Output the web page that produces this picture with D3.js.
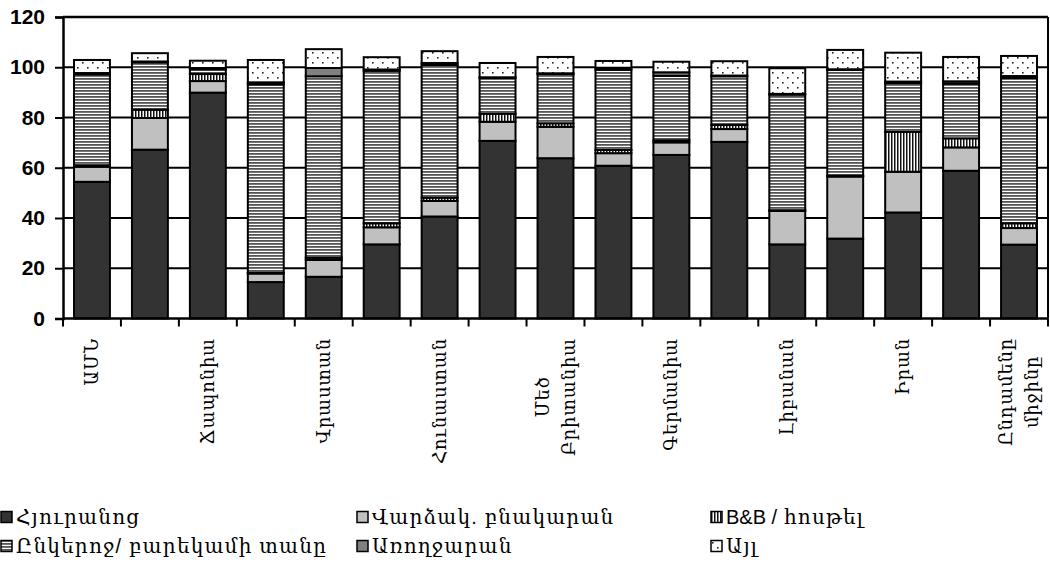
<!DOCTYPE html>
<html>
<head>
<meta charset="utf-8">
<script src="https://cdn.jsdelivr.net/npm/d3@7"></script>
<style>
  body { margin: 0; background: #fff; }
  text { font-family: "Liberation Sans", "DejaVu Serif", sans-serif; }
  .ytick text { font-weight: bold; font-size: 21px; }
</style>
</head>
<body>
<svg id="chart"></svg>
<script>
const W = 1050, H = 573;

// categories (only every second one is labelled in the original)
const categories = ["ԱՄՆ", "", "Ճապոնիա", "", "Վրաստան", "", "Հունաստան", "",
  "Մեծ\nԲրիտանիա", "", "Գերմանիա", "", "Լիբանան", "", "Իրան", "", "Ընդամենը\nմիջինը"];

const seriesNames = ["Հյուրանոց", "Վարձակ. բնակարան", "B&B / հոսթել",
  "Ընկերոջ/ բարեկամի տանը", "Առողջարան", "Այլ"];

const hotel    = [54.4, 67.2, 89.9, 14.5, 16.6, 29.5, 40.6, 70.7, 63.8, 60.8, 65.1, 70.3, 29.5, 31.8, 42.2, 58.8, 29.4];
const rental   = [6.0, 12.6, 4.6, 3.4, 6.7, 6.8, 6.2, 7.6, 12.5, 5.0, 5.0, 5.1, 13.3, 24.7, 16.2, 9.3, 6.6];
const bnb      = [0.6, 3.3, 2.8, 0.3, 0.9, 1.6, 1.3, 3.2, 1.4, 1.3, 0.8, 1.6, 0.3, 0.3, 15.9, 3.6, 1.9];
const friends  = [36.2, 18.9, 1.9, 75.0, 72.2, 60.7, 52.8, 14.2, 19.6, 31.9, 25.7, 19.4, 46.0, 42.1, 19.4, 21.8, 57.8];
const hospital = [0.5, 0.3, 0.5, 0.8, 3.3, 0.5, 0.8, 0.3, 0.3, 0.8, 1.4, 0.3, 0.3, 0.3, 0.6, 0.9, 0.8];
const other    = [5.2, 3.3, 2.9, 8.9, 7.5, 4.9, 4.7, 5.7, 6.5, 2.7, 4.2, 5.7, 10.2, 7.7, 11.5, 9.7, 8.0];

const yTicks = [0, 20, 40, 60, 80, 100, 120];

const fills = ["#333333", "#c0c0c0", "url(#vstripe)", "url(#hstripe)", "#808080", "url(#dots)"];

const margin = { left: 63, right: 2, top: 17, bottom: 254 };

const svg = d3.select("#chart").attr("width", W).attr("height", H);

// patterns
const defs = svg.append("defs");
const hs = defs.append("pattern").attr("id", "hstripe")
  .attr("patternUnits", "userSpaceOnUse").attr("width", 6).attr("height", 3);
hs.append("rect").attr("width", 6).attr("height", 3).attr("fill", "#fff");
hs.append("rect").attr("y", 0).attr("width", 6).attr("height", 1.8).attr("fill", "#555");

const vs = defs.append("pattern").attr("id", "vstripe")
  .attr("patternUnits", "userSpaceOnUse").attr("width", 3).attr("height", 6);
vs.append("rect").attr("width", 3).attr("height", 6).attr("fill", "#fff");
vs.append("rect").attr("x", 0).attr("width", 1.5).attr("height", 6).attr("fill", "#111");

const dp = defs.append("pattern").attr("id", "dots")
  .attr("patternUnits", "userSpaceOnUse").attr("width", 10).attr("height", 10);
dp.append("rect").attr("width", 10).attr("height", 10).attr("fill", "#fff");
dp.append("rect").attr("x", 2).attr("y", 2).attr("width", 1.6).attr("height", 1.6).attr("fill", "#222");
dp.append("rect").attr("x", 7).attr("y", 7).attr("width", 1.6).attr("height", 1.6).attr("fill", "#222");

const x = d3.scaleBand()
  .domain(d3.range(categories.length))
  .range([margin.left, W - margin.right])
  .paddingInner(0.38).paddingOuter(0.19);

const y = d3.scaleLinear()
  .domain([0, 120])
  .range([H - margin.bottom - 0.5, margin.top]);

// gridlines
svg.append("g").selectAll("line")
  .data(yTicks.filter(d => d > 0))
  .enter().append("line")
  .attr("x1", margin.left).attr("x2", W - margin.right)
  .attr("y1", d => y(d)).attr("y2", d => y(d))
  .attr("stroke", "#000").attr("stroke-width", d => d === 120 ? 2.5 : 2);

// right border
svg.append("line")
  .attr("x1", W - margin.right).attr("x2", W - margin.right)
  .attr("y1", y(120)).attr("y2", y(0))
  .attr("stroke", "#000").attr("stroke-width", 2);

// stacked bars
const rows = categories.map((c, i) => ({
  i, hotel: hotel[i], rental: rental[i], bnb: bnb[i],
  friends: friends[i], hospital: hospital[i], other: other[i]
}));
const keys = ["hotel", "rental", "bnb", "friends", "hospital", "other"];
const stacked = d3.stack().keys(keys)(rows);

svg.append("g").selectAll("g")
  .data(stacked)
  .enter().append("g")
  .attr("fill", (d, k) => fills[k])
  .selectAll("rect")
  .data(d => d)
  .enter().append("rect")
  .attr("x", d => x(d.data.i))
  .attr("width", x.bandwidth())
  .attr("y", d => y(d[1]))
  .attr("height", d => y(d[0]) - y(d[1]))
  .attr("stroke", "#000")
  .attr("stroke-width", 2);

// y axis
const yAxis = svg.append("g")
  .attr("class", "ytick")
  .attr("transform", `translate(${margin.left},0)`)
  .call(d3.axisLeft(y).tickValues(yTicks).tickSize(8).tickPadding(10));
yAxis.select(".domain").attr("stroke-width", 2.5);
yAxis.selectAll(".tick line").attr("stroke-width", 2);
yAxis.selectAll("text").attr("fill", "#000");

// x axis
const xAxis = svg.append("g")
  .attr("transform", `translate(0,${y(0)})`);
xAxis.append("line")
  .attr("x1", margin.left).attr("x2", W - margin.right)
  .attr("stroke", "#000").attr("stroke-width", 2.5);
const step = x.step();
xAxis.selectAll(".xt")
  .data(d3.range(categories.length + 1))
  .enter().append("line")
  .attr("x1", d => margin.left + d * step).attr("x2", d => margin.left + d * step)
  .attr("y1", 0).attr("y2", 8)
  .attr("stroke", "#000").attr("stroke-width", 2);

// category labels, rotated, multi-line ones centred on the longest line
const labelTop = 338;
categories.forEach((c, i) => {
  if (!c) return;
  const lines = c.split("\n");
  const cx = x(i) + x.bandwidth() / 2;
  const lh = 26;
  const g = svg.append("g");
  const texts = lines.map(ln => g.append("text")
    .attr("font-size", 18)
    .attr("letter-spacing", 0.8)
    .attr("text-anchor", "middle")
    .attr("dominant-baseline", "central")
    .text(ln));
  const maxLen = d3.max(texts, t => t.node().getComputedTextLength());
  const cy = labelTop + maxLen / 2;
  texts.forEach((t, j) => {
    const dx = (j - (lines.length - 1) / 2) * lh;
    t.attr("transform", `translate(${cx + dx},${cy}) rotate(-90)`);
  });
});

// legend
const legendCols = [0, 356, 710];
const legendRows = [517, 546];
seriesNames.forEach((name, k) => {
  const lx = legendCols[k % 3], ly = legendRows[Math.floor(k / 3)];
  svg.append("rect")
    .attr("x", lx + 1).attr("y", ly - 5.5)
    .attr("width", 11).attr("height", 11)
    .attr("fill", fills[k]).attr("stroke", "#000").attr("stroke-width", 1.5);
  const t = svg.append("text")
    .attr("x", lx + 16).attr("y", ly + 7)
    .attr("font-size", 20);
  // latin parts keep normal spacing, armenian parts are spaced a little wider
  name.split(/([A-Za-z&\/ ]+(?=\s)|B&B \/ )/).filter(s => s).forEach(part => {
    t.append("tspan")
      .attr("letter-spacing", /[A-Za-z]/.test(part) ? 0 : 1.2)
      .text(part);
  });
});
</script>
</body>
</html>
